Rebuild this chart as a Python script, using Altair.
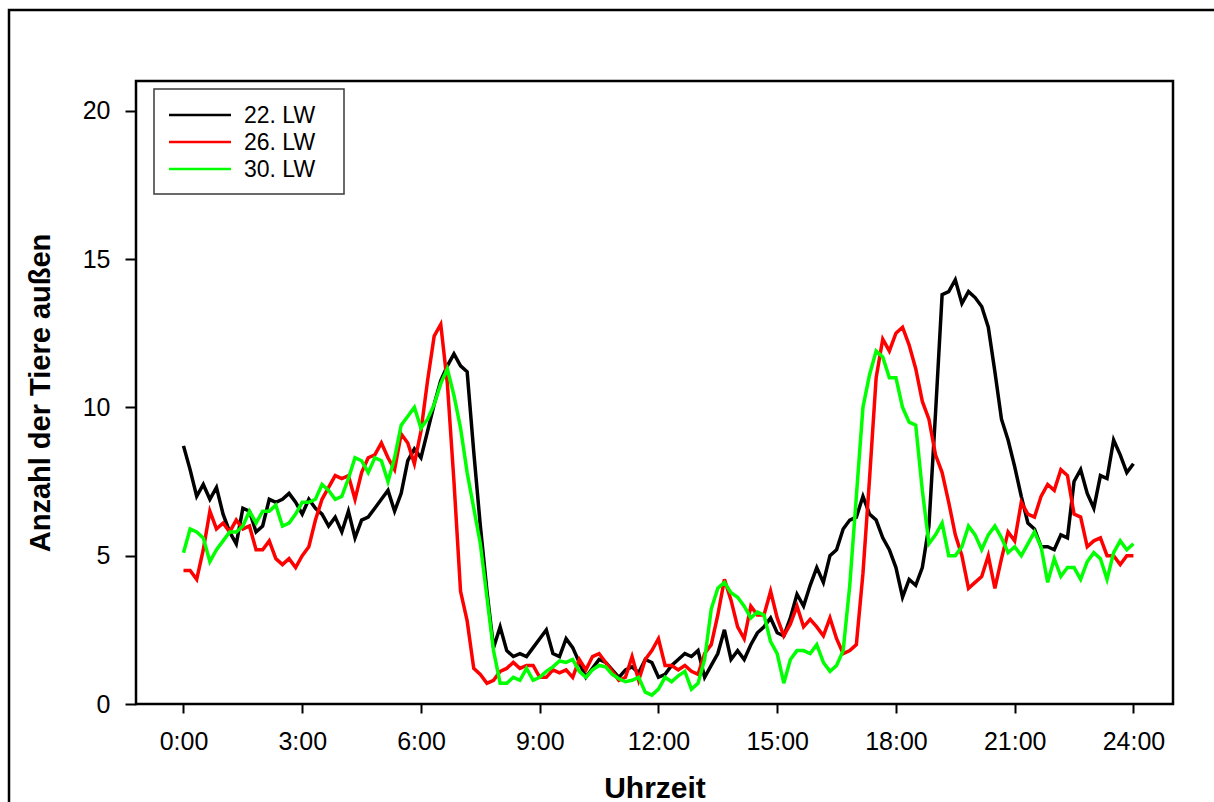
import altair as alt
import pandas as pd

# Series names, colours and axis ticks
series_names = ["22. LW", "26. LW", "30. LW"]
series_colors = ["#000000", "#ff0000", "#00ff00"]
x_ticks = [0, 3, 6, 9, 12, 15, 18, 21, 24]
y_ticks = [0, 5, 10, 15, 20]

# Number of animals outside, one value every 10 minutes from 0:00 to 24:00
lw22 = [8.7, 7.9, 7.0, 7.4, 6.9, 7.3, 6.4, 5.8, 5.4, 6.6, 6.5, 5.8,
        6.0, 6.9, 6.8, 6.9, 7.1, 6.8,
        6.4, 6.9, 6.6, 6.4, 6.0, 6.3,
        5.8, 6.5, 5.6, 6.2, 6.3, 6.6,
        6.9, 7.2, 6.5, 7.1, 8.2, 8.6,
        8.3, 9.2, 10.1, 10.9, 11.4, 11.8,
        11.4, 11.2, 8.5, 6.0, 3.8, 1.9,
        2.6, 1.8, 1.6, 1.7, 1.6, 1.9,
        2.2, 2.5, 1.7, 1.6, 2.2, 1.9,
        1.4, 0.9, 1.2, 1.5, 1.4, 1.15,
        0.9, 1.15, 1.25, 1.05, 1.5, 1.4,
        0.9, 1.0, 1.3, 1.5, 1.7, 1.6,
        1.8, 0.9, 1.3, 1.7, 2.5, 1.5,
        1.8, 1.5, 2.0, 2.4, 2.6, 2.9,
        2.4, 2.3, 2.9, 3.7, 3.3, 4.0,
        4.6, 4.1, 5.0, 5.2, 5.9, 6.2,
        6.3, 7.0, 6.4, 6.2, 5.6, 5.2,
        4.6, 3.6, 4.2, 4.0, 4.6, 6.0,
        9.8, 13.8, 13.9, 14.3, 13.5, 13.9,
        13.7, 13.4, 12.7, 11.2, 9.6, 8.9,
        8.0, 7.0, 6.1, 5.9, 5.3, 5.3,
        5.2, 5.7, 5.6, 7.5, 7.9, 7.1,
        6.6, 7.7, 7.6, 8.9, 8.4, 7.8,
        8.1]

lw26 = [4.5, 4.5, 4.2, 5.2, 6.5, 5.9, 6.1, 5.8, 6.2, 5.9, 6.0, 5.2,
        5.2, 5.5, 4.9, 4.7, 4.9, 4.6,
        5.0, 5.3, 6.2, 6.9, 7.3, 7.7,
        7.6, 7.7, 6.9, 7.8, 8.3, 8.4,
        8.8, 8.3, 7.9, 9.1, 8.8, 8.1,
        9.2, 10.9, 12.4, 12.8, 10.8, 7.5,
        3.8, 2.8, 1.2, 1.0, 0.7, 0.8,
        1.1, 1.2, 1.4, 1.2, 1.3, 1.3,
        0.9, 0.9, 1.15, 1.05, 1.15, 0.9,
        1.5, 1.15, 1.6, 1.7, 1.4, 1.1,
        0.8, 0.9, 1.6, 0.8, 1.5, 1.8,
        2.2, 1.3, 1.3, 1.15, 1.3, 1.1,
        1.0, 1.7, 2.0, 3.0, 4.2, 3.5,
        2.6, 2.2, 3.3, 3.0, 3.0, 3.8,
        2.9, 2.3, 2.7, 3.3, 2.6, 2.85,
        2.6, 2.3, 2.9, 2.2, 1.7, 1.8,
        2.0, 4.4, 7.6, 11.0, 12.3, 11.9,
        12.5, 12.7, 12.1, 11.3, 10.2, 9.6,
        8.4, 7.8, 6.8, 5.7, 5.0, 3.9,
        4.1, 4.3, 5.0, 3.9, 4.9, 5.8,
        5.5, 6.8, 6.4, 6.3, 7.0, 7.4,
        7.2, 7.9, 7.7, 6.4, 6.3, 5.3,
        5.5, 5.6, 5.0, 5.0, 4.7, 5.0,
        5.0]

lw30 = [5.1, 5.9, 5.8, 5.6, 4.8, 5.2, 5.5, 5.8, 5.8, 6.0, 6.5, 6.1,
        6.5, 6.5, 6.7, 6.0, 6.1, 6.4,
        6.8, 6.8, 6.9, 7.4, 7.2, 6.9,
        7.0, 7.6, 8.3, 8.2, 7.8, 8.3,
        8.2, 7.5, 8.3, 9.4, 9.7, 10.0,
        9.3, 9.6, 10.1, 10.8, 11.3, 10.4,
        9.3, 7.8, 6.6, 5.4, 3.6, 1.8,
        0.7, 0.7, 0.9, 0.8, 1.2, 0.8,
        0.9, 1.1, 1.25, 1.45, 1.4, 1.5,
        1.1, 0.9, 1.15, 1.3, 1.25, 1.0,
        0.85, 0.75, 0.8, 0.9, 0.4, 0.3,
        0.5, 0.9, 0.75, 0.95, 1.1, 0.5,
        0.7, 1.5, 3.2, 3.9, 4.1, 3.75,
        3.6, 3.3, 2.9, 3.1, 3.0, 2.1,
        1.7, 0.7, 1.5, 1.8, 1.8, 1.7,
        2.0, 1.4, 1.1, 1.3, 1.8, 4.0,
        7.0, 10.0, 11.1, 11.9, 11.7, 11.0,
        11.0, 10.0, 9.5, 9.4, 7.2, 5.4,
        5.7, 6.1, 5.0, 5.0, 5.3, 6.0,
        5.7, 5.2, 5.7, 6.0, 5.6, 5.1,
        5.3, 5.0, 5.4, 5.8, 5.3, 4.1,
        4.9, 4.3, 4.6, 4.6, 4.2, 4.8,
        5.1, 4.9, 4.2, 5.1, 5.5, 5.2,
        5.4]

step_minutes = 10
hours = [i * step_minutes / 60 for i in range(len(lw22))]

rows = []
for name, values in zip(series_names, [lw22, lw26, lw30]):
    for h, v in zip(hours, values):
        rows.append({"Stunde": h, "Anzahl": v, "Serie": name})
df = pd.DataFrame(rows)

FONT = "Liberation Sans"

x_axis = alt.Axis(
    values=x_ticks, labelExpr="datum.value + ':00'", grid=False, domain=False,
    tickSize=9, tickWidth=2, tickColor="black", labelPadding=16,
    labelFont=FONT, labelFontSize=25, labelColor="black",
    labelFlush=False, labelOverlap=False, labelBound=False,
    title="Uhrzeit", titleFont=FONT, titleFontSize=30, titleFontWeight="bold",
    titleColor="black", titleY=84, titleBaseline="middle",
)
y_axis = alt.Axis(
    values=y_ticks, grid=False, domain=False,
    tickSize=11, tickWidth=2, tickColor="black", labelPadding=15,
    labelFont=FONT, labelFontSize=25, labelColor="black",
    labelFlush=False, labelOverlap=False, labelBound=False,
    title="Anzahl der Tiere außen", titleFont=FONT, titleFontSize=29,
    titleFontWeight="bold", titleColor="black",
    titleX=-96, titleY=311.5, titleAngle=270, titleAlign="center",
    titleBaseline="middle",
)

x_enc = alt.X("Stunde:Q", scale=alt.Scale(domain=[-1.2, 25], nice=False, zero=False), axis=x_axis)
y_enc = alt.Y("Anzahl:Q", scale=alt.Scale(domain=[0, 21], nice=False), axis=y_axis)

one_row = pd.DataFrame({"k": [0]})

# Page border around the whole figure
page_border = alt.Chart(one_row).mark_rect(
    fillOpacity=0, stroke="black", strokeWidth=2.5
).encode(x=alt.value(-127), x2=alt.value(1120), y=alt.value(-71), y2=alt.value(760))

line_layers = []
for name, color in zip(series_names, series_colors):
    line_layers.append(
        alt.Chart(df).transform_filter(alt.datum.Serie == name)
        .mark_line(color=color, strokeWidth=3.5, strokeJoin="miter")
        .encode(x=x_enc, y=y_enc)
    )

# Legend box with line samples and labels
legend_df = pd.DataFrame({"Serie": series_names})
legend_box = alt.Chart(one_row).mark_rect(
    fill="white", stroke="#3a3a3a", strokeWidth=1.5
).encode(x=alt.value(18), x2=alt.value(208), y=alt.value(8), y2=alt.value(113))

legend_layers = []
for i, (name, color) in enumerate(zip(series_names, series_colors)):
    ypos = 34 + 27 * i
    entry = alt.Chart(legend_df).transform_filter(alt.datum.Serie == name)
    legend_layers.append(
        entry.mark_rule(color=color, strokeWidth=2.5).encode(
            x=alt.value(33), x2=alt.value(95), y=alt.value(ypos))
    )
    legend_layers.append(
        entry.mark_text(align="left", baseline="middle", font=FONT, fontSize=23, color="black")
        .encode(x=alt.value(108), y=alt.value(ypos + 1), text="Serie:N")
    )

chart = alt.layer(page_border, *line_layers, legend_box, *legend_layers).properties(
    width=1037,
    height=623,
    padding={"left": 136, "top": 81, "right": 41, "bottom": 98},
    autosize=alt.AutoSizeParams(type="none"),
    background="white",
).configure_view(stroke="black", strokeWidth=2.5)

chart.save("out.html", embed_options={"renderer": "svg", "actions": False})
